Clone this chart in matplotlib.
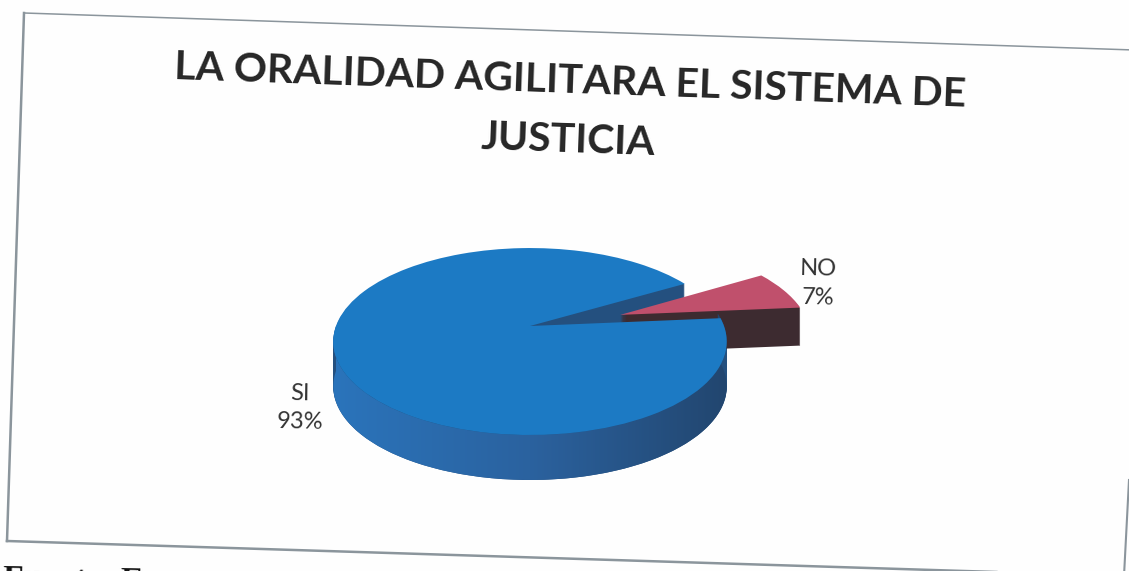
import numpy as np
import matplotlib
matplotlib.use("Agg")
import matplotlib.pyplot as plt
from matplotlib.colors import LinearSegmentedColormap
from matplotlib.patches import PathPatch
from matplotlib.path import Path
from matplotlib.transforms import Transform

TITLE = "LA ORALIDAD AGILITARA EL SISTEMA DE\nJUSTICIA"
FOOTER = "Fuente: Encuesta"
LABELS = ["SI", "NO"]
VALUES = [93, 7]

START_ANGLE = 30.2
BLUE_TOP = "#1c7ac4"
BLUE_CUT = "#24507f"
RED_TOP = "#c0506c"
RED_WALL = "#3d2b30"
FRAME = "#8b959c"


class TiltTransform(Transform):
	"""Maps the unit pie onto the slanted ellipse of the fake 3D chart, in pixels"""
	input_dims = 2
	output_dims = 2

	def __init__(self, drop=0):
		super().__init__()
		self.drop = drop

	def transform_non_affine(self, values):
		u, v = np.asarray(values).T
		scale = 1 / (1 + 0.166 * v)
		return np.column_stack([530 + 194 * u * scale, 326 - 90.9 * v * scale + self.drop])


def draw_slice(ax, index, color, drop=0, center=(0, 0), radius=1):
	wedges, _ = ax.pie(VALUES, startangle=START_ANGLE, colors=[color, color],
		center=center, radius=radius, wedgeprops={"linewidth": 0})
	wedges[1 - index].remove()
	wedges[index].set_transform(TiltTransform(drop) + ax.transData)


def main():
	fig = plt.figure(figsize=(11.29, 5.71), dpi=100, facecolor="#fefefe")
	ax = fig.add_axes([0, 0, 1, 1])

	# Scanned frame, slightly rotated
	ax.plot([24, 1134], [13, 50], color=FRAME, linewidth=1.1)
	ax.plot([24, 7], [13, 541], color=FRAME, linewidth=1.8)
	ax.plot([7, 1124], [541, 576], color=FRAME, linewidth=1.8)
	ax.plot([1129, 1124], [480, 576], color=FRAME, linewidth=1.5)

	# Back of the blue slice, only the cut face stays visible
	for drop in range(45, 0, -1):
		draw_slice(ax, 0, BLUE_CUT, drop)

	# Exploded red slice
	for drop in range(38, 0, -1):
		draw_slice(ax, 1, RED_WALL, drop, center=(0.475, 0.125), radius=0.97)
	draw_slice(ax, 1, RED_TOP, 0, center=(0.475, 0.125), radius=0.97)

	# Front wall of the blue slice with the shading going dark to the right
	theta = np.radians(np.linspace(180, 368, 200))
	rim = np.column_stack([np.cos(theta), np.sin(theta)])
	upper = TiltTransform(0).transform_non_affine(rim)
	lower = TiltTransform(45).transform_non_affine(rim)
	wall = PathPatch(Path(np.vstack([upper, lower[::-1]])), transform=ax.transData)
	shade = LinearSegmentedColormap.from_list("wall", ["#2a74bb", "#2b629f", "#22466f"])
	image = ax.imshow(np.linspace(0, 1, 256)[None, :], cmap=shade, aspect="auto",
		extent=[333, 727, 500, 300], zorder=1)
	image.set_clip_path(wall)

	draw_slice(ax, 0, BLUE_TOP)
	for wedge in ax.patches[-1:]:
		wedge.set_zorder(1.5)

	ax.set_xlim(0, 1129)
	ax.set_ylim(571, 0)
	ax.set_aspect("auto")
	ax.axis("off")

	ax.text(569, 111, TITLE, family="Lato", fontweight="bold", fontsize=29.4, color="#262626",
		ha="center", va="center", rotation=-2, rotation_mode="anchor", linespacing=1.76)
	label_places = [(300, 408), (818, 283)]
	for label, value, (x, y) in zip(LABELS, VALUES, label_places):
		ax.text(x, y, f"{label}\n{value}%", family="Lato", fontsize=17, color="#333333",
			ha="center", va="center", rotation=-1, rotation_mode="anchor", linespacing=1.45)
	ax.text(3, 588, FOOTER, family="Liberation Serif", fontweight="bold", fontsize=24,
		color="#111111", ha="left", va="baseline", rotation=-1, rotation_mode="anchor")

	fig.savefig("out.png", dpi=100, facecolor=fig.get_facecolor())
	plt.close(fig)


if __name__ == "__main__":
	main()
